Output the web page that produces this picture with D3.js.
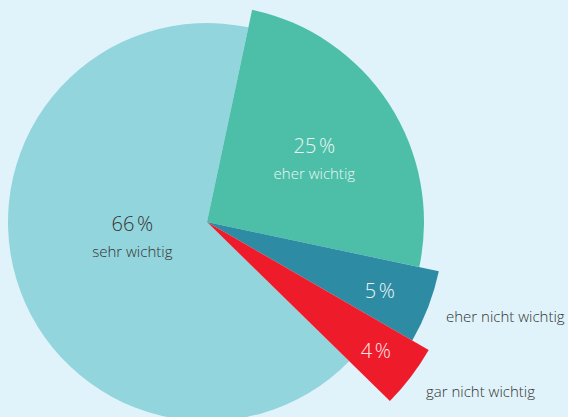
<!DOCTYPE html>
<html>
<head>
<meta charset="utf-8">
<script src="https://cdn.jsdelivr.net/npm/d3@7"></script>
<style>
  html, body { margin: 0; padding: 0; background: #e0f3fa; }
  svg { display: block; font-family: "Open Sans", sans-serif; }
</style>
</head>
<body>
<div id="chart"></div>
<script>
// data
const categories = ["sehr wichtig", "eher wichtig", "eher nicht wichtig", "gar nicht wichtig"];
const values = [66, 25, 5, 4];
const pctLabels = ["66\u202F%", "25\u202F%", "5\u202F%", "4\u202F%"];

// styles per slice
const colors = ["#93d5dc", "#4dbfa8", "#2e8ba4", "#ee1c2b"];
const outerR = [199, 217, 237, 256];
const labelR = [78, 128, 185, 212];
const pctDy = [-14, 1, 10, 8];

const width = 568, height = 417;
const cx = 207, cy = 222;

const svg = d3.select("#chart").append("svg")
  .attr("width", width)
  .attr("height", height);

svg.append("rect").attr("width", width).attr("height", height).attr("fill", "#e0f3fa");

const g = svg.append("g").attr("transform", `translate(${cx},${cy})`);

// the small slices start at ~12 degrees, sehr wichtig comes before them
const start = (12 - 360 * values[0] / 100) * Math.PI / 180;
const pie = d3.pie().sort(null).startAngle(start).endAngle(start + 2 * Math.PI);
const arcs = pie(values);

g.selectAll("path.slice")
  .data(arcs)
  .join("path")
    .attr("class", "slice")
    .attr("d", (d, i) => d3.arc().innerRadius(0).outerRadius(outerR[i])(d))
    .attr("fill", (d, i) => colors[i]);

// label anchor point per slice
const pos = (d, i) => {
  const a = (d.startAngle + d.endAngle) / 2;
  return [Math.sin(a) * labelR[i], -Math.cos(a) * labelR[i] + pctDy[i]];
};

const textColor = ["#333333", "#eaf7f4", "#eaf7f4", "#fbe9ea"];

// percent labels
g.selectAll("text.pct")
  .data(arcs)
  .join("text")
    .attr("class", "pct")
    .attr("x", (d, i) => pos(d, i)[0])
    .attr("y", (d, i) => pos(d, i)[1])
    .attr("text-anchor", "middle")
    .attr("fill", (d, i) => textColor[i])
    .style("font-size", "20px")
    .style("font-weight", 300)
    .text((d, i) => pctLabels[i]);

// category labels inside the two big slices
g.selectAll("text.cat")
  .data(arcs.slice(0, 2))
  .join("text")
    .attr("class", "cat")
    .attr("x", (d, i) => pos(d, i)[0])
    .attr("y", (d, i) => pos(d, i)[1] + 26)
    .attr("text-anchor", "middle")
    .attr("fill", (d, i) => textColor[i])
    .style("font-size", "15px")
    .style("font-weight", 300)
    .text((d, i) => categories[i]);

// outside labels for the small slices
const outside = [{ i: 2, dx: 239, dy: 100 }, { i: 3, dx: 219, dy: 175 }];
g.selectAll("text.out")
  .data(outside)
  .join("text")
    .attr("class", "out")
    .attr("x", d => d.dx)
    .attr("y", d => d.dy)
    .attr("fill", "#333333")
    .style("font-size", "15px")
    .style("font-weight", 300)
    .text(d => categories[d.i]);
</script>
</body>
</html>
